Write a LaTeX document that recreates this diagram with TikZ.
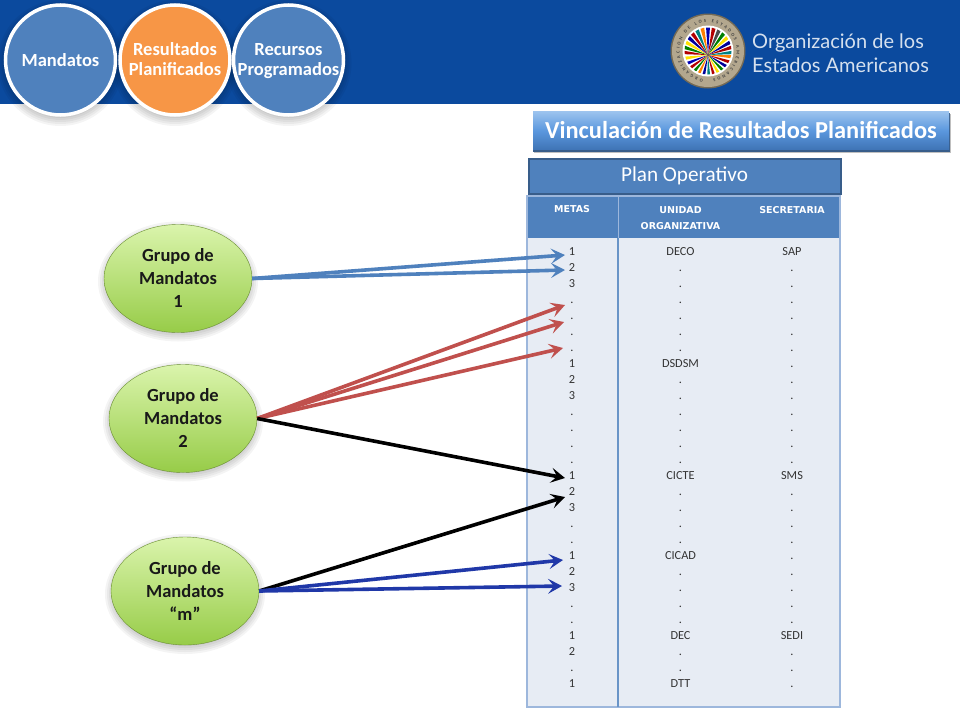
\documentclass[tikz,border=0pt]{standalone}
\usepackage{fontspec}
\setmainfont{Carlito}
\newfontfamily\logofont{Lato}
\newfontfamily\headfont{DejaVu Sans}
\usetikzlibrary{arrows.meta,shapes.geometric,decorations.text}
\definecolor{band}{HTML}{0B4A9E}
\definecolor{steel}{HTML}{4F81BD}
\definecolor{orangec}{HTML}{F79646}
\definecolor{bodyc}{HTML}{E7ECF4}
\definecolor{edgec}{HTML}{9DB7DC}
\definecolor{barb}{HTML}{385D8A}
\definecolor{redc}{HTML}{C0504D}
\definecolor{navy}{HTML}{2038A8}
\definecolor{sealc}{HTML}{A6977A}
\definecolor{grupotop}{HTML}{DAF4AC}
\definecolor{grupobot}{HTML}{97CC48}
\definecolor{logoc}{HTML}{D5E0EE}
\definecolor{tituloa}{HTML}{9CC3EE}
\definecolor{titulob}{HTML}{5B98DE}
\definecolor{tituloc}{HTML}{3F74B6}
\newcommand\softblob[4]{\foreach \g in {-2,0,2,4,6}{\fill[softlayer] (#1,#2) ellipse[x radius=#3+\g,y radius=#4+\g];}}
\tikzset{
  x=1pt,y=-1pt,
  softlayer/.style={black,opacity=.045},
  tabcircle/.style={circle,draw=white,line width=3.5pt,minimum size=110pt,inner sep=0pt,text=white,align=center,
    font=\fontsize{18.5}{20}\selectfont\bfseries},
  grupo/.style={ellipse,draw=grupobot!70!black,line width=.4pt,minimum width=148pt,minimum height=108pt,inner sep=0pt,
    top color=grupotop,bottom color=grupobot,align=center,text=black!90,
    font=\fontsize{18.5}{23}\selectfont\bfseries},
  cell/.style={font=\fontsize{12.3}{13}\selectfont,text=black!80,inner sep=0pt,anchor=base},
  headcell/.style={font=\headfont\fontsize{9.5}{16}\selectfont\bfseries,text=white,inner sep=0pt,align=center},
  link/.style={line width=3.6pt,-{Stealth[length=14pt,width=15pt,inset=6pt]}},
  linkblue/.style={link,draw=steel},
  linkred/.style={link,draw=redc},
  linkblack/.style={link,draw=black},
  linknavy/.style={link,draw=navy},
  logotext/.style={font=\logofont\fontsize{20}{24}\selectfont,text=logoc,anchor=west,inner sep=0pt},
}
\begin{document}
\begin{tikzpicture}
\useasboundingbox (0,0) rectangle (960,720);
\fill[white] (0,0) rectangle (960,720);
\fill[band] (0,0) rectangle (960,104);

% tabs
\softblob{60.5}{63}{57}{57}
\softblob{175}{63}{57}{57}
\softblob{288.5}{63}{57}{57}
\node[tabcircle,fill=steel] (mandatos) at (60.5,60) {Mandatos};
\node[tabcircle,fill=orangec] (resultados) at (175,60) {\rule{0pt}{16pt}Resultados\\Planificados\strut};
\node[tabcircle,fill=steel] (recursos) at (288.5,60) {\rule{0pt}{16pt}Recursos\\Programados\strut};

% seal
\fill[sealc!70!black] (708,51) circle (37.5);
\fill[sealc!85!white] (708,51) circle (36);
\fill[white] (708,51) circle (25.5);
\begin{scope}
\clip (708,51) circle (23.5);
\foreach \a/\c in {0/orange,14/red!70!black,28/blue!60!black,42/green!50!black,56/yellow!85!orange,70/red!70!black,84/teal,98/blue!60!black,112/orange,126/green!50!black,140/red!70!black,154/blue!70!black,168/yellow!85!orange,182/red!70!black,194/green!50!black,206/yellow!85!orange,218/blue!60!black,230/red!70!black,242/teal,254/orange,266/blue!70!black,278/red!70!black,290/black!70,302/green!50!black,314/yellow!80!orange,326/blue!60!black,338/red!65!black,350/teal}
  \fill[\c] (708,55) -- +(\a:40) -- +(\a+8:40) -- cycle;
\end{scope}
\path[postaction={decorate,decoration={text along path,text align={fit to path},
  text={|\fontsize{4.5}{6}\selectfont\bfseries\color{black!75}|ORGANIZACION DE LOS ESTADOS AMERICANOS}}}]
  (708,51) ++(100:28.5) arc[start angle=100,end angle=440,radius=28.5];
\node[logotext] (logo1) at (752,42.5) {Organización de los};
\node[logotext] (logo2) at (752,65) {Estados Americanos};

% title
\fill[black,opacity=.25] (534,114) rectangle (951,153);
\fill[barb] (533,113) rectangle (950,151.5);
\node[draw=none,minimum width=416pt,minimum height=38pt,inner sep=0pt,
  top color=tituloa,bottom color=tituloc,middle color=titulob,
  text=white,font=\fontsize{24.4}{26}\selectfont\bfseries] (titulo) at (741,130.5) {Vinculación de Resultados Planificados};

% table
\fill[bodyc] (527,238) rectangle (840,707);
\fill[steel] (527,196) rectangle (840,238);
\draw[edgec,line width=1.2pt] (527,196) rectangle (840,707);
\draw[steel!85!white,line width=1.6pt] (618,238) -- (618,707);
\draw[edgec,line width=.8pt] (618,196) -- (618,238);
\node[draw=barb,line width=2pt,fill=steel,minimum width=312pt,minimum height=35pt,inner sep=0pt,text=white,
  font=\fontsize{21.2}{22}\selectfont] (plan) at (684.5,176) {Plan Operativo};
\node[headcell] (hm) at (572,209) {METAS};
\node[headcell] (hu) at (680.5,218) {UNIDAD\\ORGANIZATIVA};
\node[headcell] (hs) at (792,210) {SECRETARIA};

% rows
\foreach \r/\m/\u/\s in {
 0/1/DECO/SAP,1/2/./.,2/3/./.,3/././.,4/././.,5/././.,6/././.,
 7/1/DSDSM/.,8/2/./.,9/3/./.,10/././.,11/././.,12/././.,13/././.,
 14/1/CICTE/SMS,15/2/./.,16/3/./.,17/././.,18/././.,
 19/1/CICAD/.,20/2/./.,21/3/./.,22/././.,23/././.,
 24/1/DEC/SEDI,25/2/./.,26/././.,27/1/DTT/.}{
  \pgfmathsetmacro{\yy}{255+16*\r}
  \node[cell] (m\r) at (572,\yy) {\m};
  \node[cell] (u\r) at (680.5,\yy) {\u};
  \node[cell] (s\r) at (792,\yy) {\s};
}

% groups
\softblob{178}{281.5}{74}{54}
\softblob{183}{421.5}{74}{54}
\softblob{185}{594}{74}{54}
\node[grupo] (g1) at (178,278.5) {Grupo de\\Mandatos\\1};
\node[grupo] (g2) at (183,418.5) {Grupo de\\Mandatos\\2};
\node[grupo] (g3) at (185,591) {Grupo de\\Mandatos\\“m”};

% arrow ends
\coordinate (b1) at (565,255);
\coordinate (b2) at (565,270);
\coordinate (r1) at (565,305);
\coordinate (r2) at (564,322);
\coordinate (r3) at (563,348);
\coordinate (k1) at (565,478);
\coordinate (k2) at (565,497);
\coordinate (n1) at (563,560);
\coordinate (n2) at (562,586);

\draw[linkblue] (g1.east) -- (b1);
\draw[linkblue] (g1.east) -- (b2);
\draw[linkred] (g2.east) -- (r1);
\draw[linkred] (g2.east) -- (r2);
\draw[linkred] (g2.east) -- (r3);
\draw[linkblack] (g2.east) -- (k1);
\draw[linkblack] (g3.east) -- (k2);
\draw[linknavy] (g3.east) -- (n1);
\draw[linknavy] (g3.east) -- (n2);
\end{tikzpicture}
\end{document}
